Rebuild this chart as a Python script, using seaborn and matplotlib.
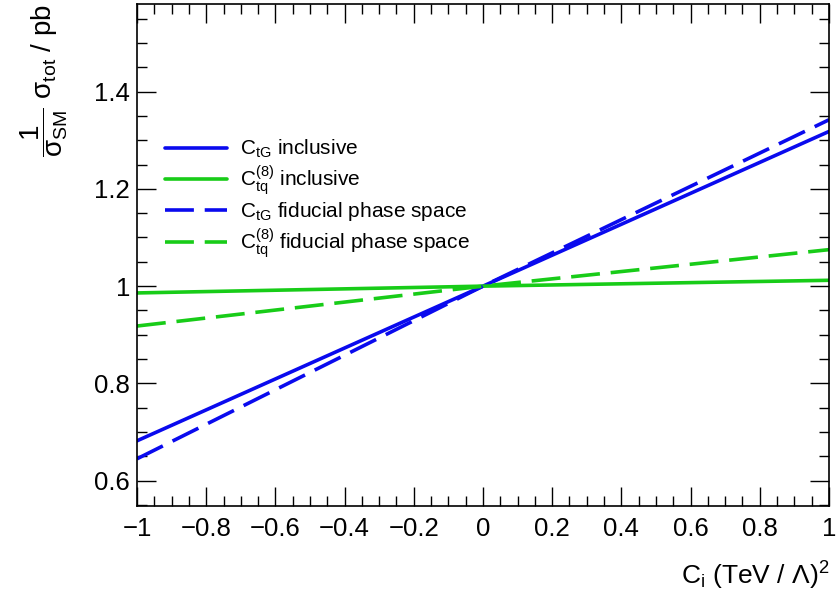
import numpy as np
import pandas as pd
import matplotlib
matplotlib.use("Agg")
import matplotlib.pyplot as plt
from matplotlib.ticker import MultipleLocator, FuncFormatter
import seaborn as sns

# ---- data ----
c_values = [-1.0, 0.0, 1.0]
ctg_inclusive = [0.682, 1.0, 1.318]
ctq8_inclusive = [0.986, 1.0, 1.012]
ctg_fiducial = [0.645, 1.0, 1.342]
ctq8_fiducial = [0.918, 1.0, 1.075]

series_labels = [
    r"$\mathregular{C_{tG}}$ inclusive",
    r"$\mathregular{C_{tq}^{(8)}}$ inclusive",
    r"$\mathregular{C_{tG}}$ fiducial phase space",
    r"$\mathregular{C_{tq}^{(8)}}$ fiducial phase space",
]
series_values = [ctg_inclusive, ctq8_inclusive, ctg_fiducial, ctq8_fiducial]

sns.set_theme(style="ticks")
plt.rcParams["font.family"] = ["Liberation Sans", "DejaVu Sans"]
plt.rcParams["mathtext.fontset"] = "custom"
plt.rcParams["mathtext.rm"] = "Liberation Sans"
plt.rcParams["mathtext.it"] = "Liberation Sans"
plt.rcParams["mathtext.bf"] = "Liberation Sans:bold"
for k in ["text.color", "axes.labelcolor", "xtick.color", "ytick.color", "axes.edgecolor"]:
    plt.rcParams[k] = "black"

blue = "#0a0aee"
green = "#18cc18"
colors = [blue, green, blue, green]
styles = ["-", "-", (0, (8, 3)), (0, (8, 3))]

fig = plt.figure(figsize=(8.37, 6.06), dpi=100)
ax = fig.add_axes([137 / 837, 1 - 506 / 606, 692 / 837, 502 / 606])

for lab, vals, col, ls in zip(series_labels, series_values, colors, styles):
    df = pd.DataFrame({"C": c_values, "ratio": vals})
    sns.lineplot(data=df, x="C", y="ratio", ax=ax, color=col, linestyle=ls,
                 linewidth=2.6, label=lab)

ax.set_xlim(-1, 1)
ax.set_ylim(0.548, 1.58)

ax.xaxis.set_major_locator(MultipleLocator(0.2))
ax.xaxis.set_minor_locator(MultipleLocator(0.05))
ax.yaxis.set_major_locator(MultipleLocator(0.2))
ax.yaxis.set_minor_locator(MultipleLocator(0.05))

def fmt(v, pos):
    s = "%g" % round(v, 6)
    if s == "-0":
        s = "0"
    return s.replace("-", "\u2212")

ax.xaxis.set_major_formatter(FuncFormatter(fmt))
ax.yaxis.set_major_formatter(FuncFormatter(fmt))

ax.tick_params(which="both", direction="in", top=True, right=True, color="black",
               labelcolor="black")
ax.tick_params(which="major", length=14, width=1.0, labelsize=18.5)
ax.tick_params(which="minor", length=7, width=1.0)
ax.tick_params(axis="x", which="major", pad=8)
ax.tick_params(axis="y", which="major", pad=5)
for sp in ax.spines.values():
    sp.set_linewidth(1.2)
    sp.set_color("black")

ax.set_xlabel(r"$\mathregular{C_{i}}$ (TeV / $\Lambda$)$^{\mathregular{2}}$", fontsize=19, loc="right")
ax.xaxis.set_label_coords(1.0, -0.108)
ax.set_ylabel(r"$\mathregular{\dfrac{1}{\sigma_{SM}}\ \sigma_{tot}}$ / pb", fontsize=20, loc="top")
ax.yaxis.set_label_coords(-0.097, 1.0)

leg = ax.legend(loc="upper left", bbox_to_anchor=(165 / 837, 1 - 138 / 606),
                bbox_transform=fig.transFigure, frameon=False, fontsize=15,
                handlelength=3.0, handletextpad=0.6, labelspacing=0.15,
                borderpad=0, borderaxespad=0)

fig.savefig("out.png", dpi=100)
